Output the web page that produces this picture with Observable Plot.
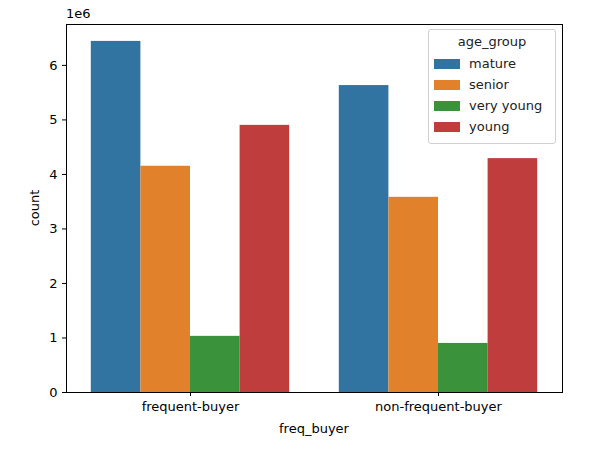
<!DOCTYPE html>
<html>
<head>
<meta charset="UTF-8">
<script src="https://cdn.jsdelivr.net/npm/d3@7"></script>
<script src="https://cdn.jsdelivr.net/npm/@observablehq/plot@0.6"></script>
<style>
  body { margin: 0; font-family: "DejaVu Sans", sans-serif; }
  #wrap { position: relative; width: 589px; height: 453px; }
  #legend { position: absolute; left: 428px; top: 29px; width: 126px; padding: 4px 0 6px 0;
    border: 1px solid #d0d0d0; border-radius: 3px; background: rgba(255,255,255,0.8); font-size: 13px; color: #222; }
  #legend .t { text-align: center; margin-bottom: 4px; }
  #legend .r { display: flex; align-items: center; height: 21px; padding-left: 5px; }
  #legend .s { width: 26px; height: 10px; margin-right: 9px; }
  #exp { position: absolute; left: 66px; top: 6px; font-size: 13px; }
</style>
</head>
<body>
<div id="wrap"><div id="chart"></div><div id="exp">1e6</div><div id="legend"></div></div>
<script>
const freqBuyer = ["frequent-buyer", "non-frequent-buyer"];
const ageGroups = ["mature", "senior", "very young", "young"];
const colors = ["#3274a1", "#e1812c", "#3a923a", "#c03d3e"];
const counts = [
  [6440000, 4150000, 1030000, 4900000],
  [5630000, 3580000, 900000, 4290000]
];

const data = [];
freqBuyer.forEach((f, g) => ageGroups.forEach((a, k) => {
  data.push({freq_buyer: f, age_group: a, count: counts[g][k],
    x1: g - 0.4 + k * 0.2, x2: g - 0.4 + (k + 1) * 0.2});
}));

const plot = Plot.plot({
  width: 589, height: 453,
  marginLeft: 66, marginRight: 27, marginTop: 24, marginBottom: 61,
  style: {fontFamily: "DejaVu Sans", fontSize: "13px", color: "#000"},
  x: {domain: [-0.5, 1.5], ticks: [0, 1], tickFormat: i => freqBuyer[i], label: null, tickSize: 4},
  y: {domain: [0, 6.75e6], ticks: d3.range(0, 7e6, 1e6), tickFormat: d => d / 1e6, label: null, tickSize: 4},
  color: {domain: ageGroups, range: colors},
  marks: [
    Plot.rectY(data, {x1: "x1", x2: "x2", y: "count", fill: "age_group"}),
    Plot.frame({stroke: "#000"}),
    Plot.axisX({ticks: [0, 1], tickFormat: i => freqBuyer[i], tickSize: 4, label: null, fontSize: 13}),
    Plot.axisY({ticks: d3.range(0, 7e6, 1e6), tickFormat: d => d / 1e6, tickSize: 4, label: null, fontSize: 13})
  ]
});
document.querySelector("#chart").append(plot);

const svg = d3.select(plot);
svg.append("text").attr("x", 314).attr("y", 433).attr("text-anchor", "middle")
  .attr("font-size", 13).text("freq_buyer");
svg.append("text").attr("transform", "translate(39,208) rotate(-90)").attr("text-anchor", "middle")
  .attr("font-size", 13).text("count");

const lg = document.querySelector("#legend");
lg.innerHTML = '<div class="t">age_group</div>' + ageGroups.map((a, i) =>
  `<div class="r"><div class="s" style="background:${colors[i]}"></div>${a}</div>`).join("");
</script>
</body>
</html>
